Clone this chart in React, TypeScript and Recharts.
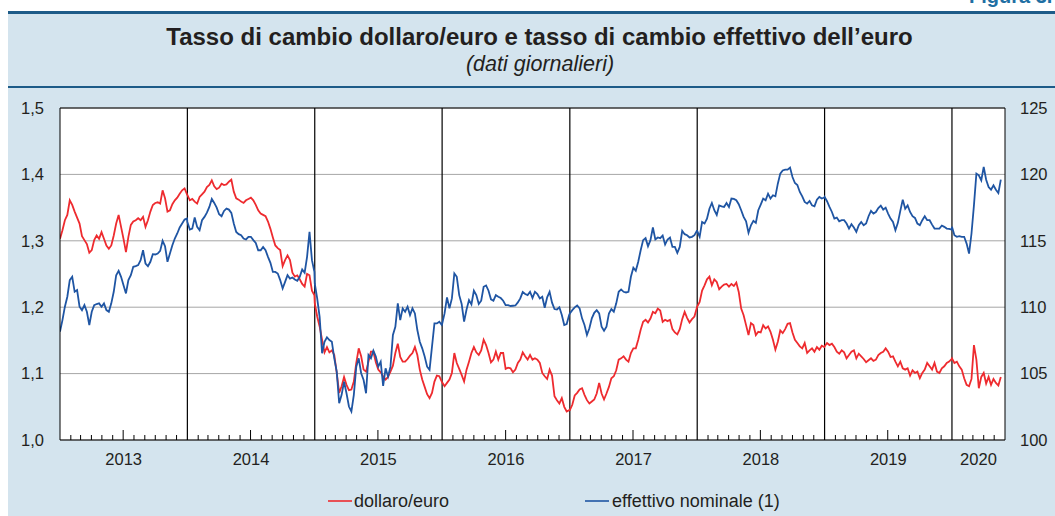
import React from 'react';
import { LineChart, Line, XAxis, YAxis, CartesianGrid, ReferenceLine } from 'recharts';

const years = [2013, 2014, 2015, 2016, 2017, 2018, 2019, 2020];
const yearLabels = ['2013', '2014', '2015', '2016', '2017', '2018', '2019', '2020'];
const leftTicks = [1.0, 1.1, 1.2, 1.3, 1.4, 1.5];
const rightTicks = [100, 105, 110, 115, 120, 125];

// weekly readings: first value on 1 January of each year, then every 7 days
const usd2013 = [1.303, 1.316, 1.331, 1.339, 1.361, 1.354, 1.344, 1.335, 1.326, 1.307, 1.301, 1.295, 1.282, 1.286, 1.301, 1.308, 1.303, 1.313, 1.303, 1.293, 1.288, 1.293, 1.308, 1.326, 1.339, 1.321, 1.303, 1.283, 1.306, 1.324, 1.329, 1.331, 1.334, 1.331, 1.336, 1.321, 1.331, 1.344, 1.354, 1.357, 1.358, 1.356, 1.376, 1.364, 1.344, 1.346, 1.355, 1.361, 1.365, 1.371, 1.376, 1.379, 1.370];
const usd2014 = [1.369, 1.361, 1.363, 1.359, 1.356, 1.366, 1.370, 1.374, 1.381, 1.384, 1.391, 1.382, 1.378, 1.380, 1.386, 1.384, 1.385, 1.389, 1.392, 1.374, 1.364, 1.362, 1.359, 1.357, 1.361, 1.363, 1.365, 1.361, 1.354, 1.346, 1.341, 1.339, 1.337, 1.329, 1.318, 1.305, 1.293, 1.289, 1.286, 1.262, 1.271, 1.278, 1.271, 1.252, 1.246, 1.248, 1.242, 1.235, 1.231, 1.250, 1.248, 1.225, 1.218];
const usd2015 = [1.206, 1.186, 1.171, 1.151, 1.132, 1.140, 1.132, 1.135, 1.128, 1.101, 1.071, 1.081, 1.095, 1.083, 1.075, 1.076, 1.088, 1.116, 1.138, 1.126, 1.106, 1.103, 1.118, 1.133, 1.133, 1.117, 1.106, 1.102, 1.096, 1.091, 1.095, 1.103, 1.112, 1.131, 1.145, 1.125, 1.118, 1.118, 1.122, 1.127, 1.131, 1.140, 1.128, 1.106, 1.091, 1.080, 1.069, 1.063, 1.071, 1.088, 1.097, 1.096, 1.088];
const usd2016 = [1.087, 1.081, 1.086, 1.091, 1.101, 1.131, 1.116, 1.107, 1.098, 1.088, 1.106, 1.118, 1.131, 1.140, 1.132, 1.128, 1.135, 1.151, 1.143, 1.131, 1.117, 1.121, 1.133, 1.121, 1.131, 1.131, 1.107, 1.109, 1.108, 1.102, 1.106, 1.116, 1.121, 1.132, 1.126, 1.121, 1.128, 1.121, 1.123, 1.121, 1.116, 1.101, 1.096, 1.092, 1.106, 1.097, 1.066, 1.060, 1.055, 1.063, 1.050, 1.043, 1.045];
const usd2017 = [1.045, 1.053, 1.067, 1.071, 1.076, 1.078, 1.068, 1.060, 1.055, 1.058, 1.061, 1.070, 1.086, 1.070, 1.061, 1.070, 1.080, 1.093, 1.096, 1.105, 1.121, 1.123, 1.126, 1.121, 1.118, 1.131, 1.138, 1.138, 1.151, 1.166, 1.178, 1.181, 1.177, 1.183, 1.193, 1.191, 1.198, 1.195, 1.178, 1.181, 1.179, 1.181, 1.167, 1.162, 1.159, 1.167, 1.182, 1.193, 1.184, 1.177, 1.182, 1.186, 1.199];
const usd2018 = [1.201, 1.208, 1.225, 1.233, 1.242, 1.246, 1.233, 1.242, 1.238, 1.227, 1.231, 1.234, 1.235, 1.231, 1.235, 1.232, 1.237, 1.223, 1.198, 1.188, 1.173, 1.158, 1.176, 1.173, 1.158, 1.163, 1.162, 1.173, 1.168, 1.171, 1.163, 1.151, 1.136, 1.148, 1.165, 1.161, 1.167, 1.175, 1.176, 1.162, 1.151, 1.146, 1.141, 1.138, 1.146, 1.131, 1.135, 1.138, 1.133, 1.140, 1.136, 1.142, 1.140];
const usd2019 = [1.141, 1.146, 1.143, 1.145, 1.140, 1.133, 1.130, 1.135, 1.132, 1.123, 1.128, 1.133, 1.135, 1.123, 1.130, 1.126, 1.122, 1.117, 1.120, 1.123, 1.119, 1.121, 1.128, 1.131, 1.133, 1.138, 1.133, 1.125, 1.126, 1.118, 1.111, 1.118, 1.108, 1.106, 1.108, 1.097, 1.105, 1.101, 1.103, 1.093, 1.101, 1.106, 1.116, 1.111, 1.106, 1.116, 1.103, 1.101, 1.108, 1.111, 1.116, 1.118, 1.122];
const usd2020 = [1.123, 1.116, 1.118, 1.111, 1.106, 1.093, 1.083, 1.081, 1.092, 1.143, 1.121, 1.078, 1.095, 1.101, 1.085, 1.095, 1.083, 1.092, 1.086, 1.082, 1.095];

const eff2013 = [108.16, 109.03, 110.04, 110.79, 112.04, 112.29, 111.16, 111.29, 110.04, 109.78, 110.16, 109.66, 108.66, 109.66, 110.16, 110.24, 110.29, 110.04, 110.29, 109.78, 109.66, 110.29, 111.16, 112.41, 112.74, 112.29, 111.66, 111.04, 112.04, 112.41, 113.04, 113.09, 113.17, 113.54, 114.29, 113.29, 113.09, 113.42, 113.99, 113.97, 114.04, 114.24, 115.0, 114.59, 113.42, 114.04, 114.67, 115.17, 115.55, 116.0, 116.3, 116.6, 116.67];
const eff2014 = [116.42, 115.85, 115.92, 116.75, 116.05, 115.8, 116.55, 116.8, 117.12, 117.55, 118.15, 117.85, 117.5, 117.0, 116.85, 117.25, 117.42, 117.35, 117.1, 116.3, 115.67, 115.5, 115.42, 115.17, 115.1, 115.3, 115.3, 115.05, 114.84, 114.29, 114.29, 114.54, 114.29, 113.79, 113.34, 112.66, 112.66, 112.54, 112.04, 111.41, 111.91, 112.41, 112.16, 112.24, 112.09, 111.99, 112.29, 112.84, 112.59, 113.79, 115.67, 113.54, 112.66];
const eff2015 = [111.79, 110.66, 109.28, 106.53, 107.4, 107.73, 107.53, 107.4, 106.15, 105.15, 102.77, 103.4, 104.4, 103.52, 102.52, 102.14, 103.4, 105.52, 106.15, 105.03, 104.52, 103.52, 106.4, 106.15, 106.73, 106.28, 105.52, 105.9, 104.07, 105.4, 104.77, 105.52, 107.91, 108.53, 110.29, 109.03, 109.91, 109.66, 110.04, 109.41, 109.91, 109.53, 108.28, 107.4, 106.9, 106.28, 105.52, 105.28, 107.03, 108.78, 108.78, 108.91, 108.66];
const eff2016 = [108.73, 109.53, 110.74, 109.91, 110.66, 112.54, 112.29, 110.91, 110.24, 108.91, 109.83, 110.54, 110.21, 111.24, 110.91, 110.24, 110.49, 111.54, 111.64, 111.24, 110.59, 110.49, 110.91, 110.79, 110.69, 110.49, 110.16, 110.16, 110.09, 110.11, 110.13, 110.36, 110.66, 111.14, 110.99, 110.91, 111.16, 110.69, 111.16, 110.99, 110.66, 110.79, 109.96, 110.74, 111.16, 110.34, 109.86, 109.83, 109.99, 109.41, 108.66, 108.73, 109.41];
const eff2017 = [109.53, 109.78, 109.99, 110.13, 109.91, 109.16, 108.66, 107.91, 108.41, 109.16, 109.58, 109.78, 109.53, 108.53, 108.23, 108.53, 109.53, 109.86, 109.66, 110.29, 111.16, 111.34, 111.16, 111.11, 111.16, 112.29, 112.97, 112.74, 113.42, 114.29, 115.05, 115.2, 114.59, 115.05, 116.0, 115.1, 115.25, 115.2, 115.4, 114.72, 115.1, 115.25, 114.54, 114.54, 114.09, 114.54, 115.75, 115.5, 115.42, 115.25, 115.3, 115.42, 115.75];
const eff2018 = [115.75, 115.3, 116.42, 116.3, 116.67, 117.42, 117.85, 117.3, 116.95, 117.67, 117.6, 117.55, 117.85, 117.55, 118.18, 118.15, 118.05, 117.75, 117.3, 116.8, 116.47, 115.6, 116.17, 116.5, 116.35, 117.3, 117.73, 118.18, 118.05, 118.55, 118.18, 118.43, 118.35, 119.3, 120.06, 120.3, 120.36, 120.36, 120.51, 119.8, 119.35, 119.2, 118.68, 118.35, 117.93, 117.8, 118.0, 117.67, 117.6, 118.1, 118.3, 118.18, 118.25];
const eff2019 = [118.3, 117.98, 117.55, 117.17, 116.67, 116.75, 116.47, 116.55, 116.55, 116.3, 115.92, 116.25, 116.0, 115.67, 116.17, 116.42, 116.17, 116.3, 116.85, 117.25, 117.05, 117.17, 117.47, 117.65, 117.35, 117.5, 117.05, 116.67, 116.42, 115.8, 116.35, 117.25, 118.1, 117.42, 117.67, 117.17, 116.85, 116.72, 116.3, 116.17, 116.55, 116.85, 116.55, 116.55, 116.22, 115.92, 115.92, 115.92, 116.15, 116.05, 115.92, 115.9, 115.85];
const eff2020 = [116.05, 115.42, 115.3, 115.35, 115.3, 115.3, 114.79, 114.04, 115.55, 117.67, 120.06, 119.93, 119.55, 120.56, 119.6, 119.05, 118.85, 119.18, 118.85, 118.6, 119.6];

const usdByYear = [usd2013, usd2014, usd2015, usd2016, usd2017, usd2018, usd2019, usd2020];
const effByYear = [eff2013, eff2014, eff2015, eff2016, eff2017, eff2018, eff2019, eff2020];

const START = Date.UTC(2013, 0, 1);
const END = Date.UTC(2020, 5, 1);

const toSeries = (byYear: number[][]) =>
  byYear.flatMap((vals, k) => vals.map((v, i) => ({ t: Date.UTC(years[k], 0, 1 + 7 * i), v })));

const usdData = toSeries(usdByYear);
const effData = toSeries(effByYear);

const yearStarts = years.slice(1).map((y) => Date.UTC(y, 0, 1));

const monthTicks = years
  .flatMap((y) => Array.from({ length: 12 }, (_, m) => Date.UTC(y, m, 1)))
  .filter((t) => t > START && t < END && new Date(t).getUTCMonth() !== 0);

const labelMap = new Map<number, string>();
years.forEach((y, k) => {
  const a = Math.max(Date.UTC(y, 0, 1), START);
  const b = Math.min(Date.UTC(y + 1, 0, 1), END);
  labelMap.set(Math.round((a + b) / 2), yearLabels[k]);
});
const xTicks = [...monthTicks, ...labelMap.keys()].sort((a, b) => a - b);

const FONT = '"Liberation Sans", Arial, Helvetica, sans-serif';
const TEXT = '#231f20';
const RED = '#ee2b2f';
const BLUE = '#1f55a3';

const XTick = (props: any) => {
  const { x, y, payload } = props;
  const label = labelMap.get(payload.value);
  if (label) {
    return (
      <text x={x} y={y + 25} textAnchor="middle" fontSize={16.5} fill={TEXT}>
        {label}
      </text>
    );
  }
  const mid = new Date(payload.value).getUTCMonth() === 6;
  return <line x1={x} x2={x} y1={y} y2={y - (mid ? 10 : 5)} stroke="#000" strokeWidth={1} />;
};

export default function App() {
  return (
    <div style={{ position: 'absolute', left: 0, top: 0, width: 1055, height: 516, overflow: 'hidden', background: '#fff', fontFamily: FONT }}>
      <svg width={1055} height={516} style={{ position: 'absolute', left: 0, top: 0 }}>
        <rect x={8} y={12} width={1047} height={504} fill="#d4e4ee" />
        <rect x={8} y={11} width={1047} height={3} fill="#1d5b88" />
        <rect x={8} y={86} width={1047} height={2} fill="#1d5b88" />
        <text x={969} y={3} fontSize={20} fontWeight="bold" fill="#1f6fa3">Figura 3.</text>
        <text x={539.5} y={45} textAnchor="middle" fontSize={24} fontWeight="bold" fill={TEXT}>
          Tasso di cambio dollaro/euro e tasso di cambio effettivo dell’euro
        </text>
        <text x={540} y={71} textAnchor="middle" fontSize={21.5} fontStyle="italic" fill={TEXT}>
          (dati giornalieri)
        </text>
        <line x1={328} x2={352} y1={501} y2={501} stroke={RED} strokeWidth={1.6} />
        <text x={354} y={507} fontSize={18} fill={TEXT}>dollaro/euro</text>
        <line x1={585} x2={609} y1={501} y2={501} stroke={BLUE} strokeWidth={1.6} />
        <text x={612} y={507} fontSize={18} fill={TEXT}>effettivo nominale (1)</text>
      </svg>
      <div style={{ position: 'absolute', left: 0, top: 0 }}>
        <LineChart width={1055} height={516} margin={{ top: 108, right: 0, bottom: 46, left: 0 }}>
          <CartesianGrid vertical={false} stroke="#a6a6a6" fill="#ffffff" fillOpacity={1} />
          <XAxis
            dataKey="t"
            type="number"
            domain={[START, END]}
            allowDataOverflow
            ticks={xTicks}
            interval={0}
            tick={XTick}
            tickLine={false}
            tickSize={0}
            tickMargin={0}
            height={30}
            axisLine={{ stroke: '#000', strokeWidth: 1 }}
          />
          <YAxis
            yAxisId={0}
            domain={[1, 1.5]}
            ticks={leftTicks}
            interval={0}
            width={60}
            tickLine={false}
            tickSize={0}
            tickMargin={16}
            tickFormatter={(v: number) => v.toFixed(1).replace('.', ',')}
            tick={{ fill: TEXT, fontSize: 16.5 }}
            axisLine={{ stroke: '#000', strokeWidth: 1 }}
          />
          <YAxis
            yAxisId="right"
            orientation="right"
            domain={[100, 125]}
            ticks={rightTicks}
            interval={0}
            width={50}
            tickLine={false}
            tickSize={0}
            tickMargin={15}
            tick={{ fill: TEXT, fontSize: 16.5 }}
            axisLine={{ stroke: '#000', strokeWidth: 1 }}
          />
          {yearStarts.map((t) => (
            <ReferenceLine key={t} x={t} stroke="#000" strokeWidth={1.2} />
          ))}
          <ReferenceLine y={1.5} stroke="#000" strokeWidth={1} />
          <Line
            data={usdData}
            dataKey="v"
            yAxisId={0}
            type="linear"
            stroke={RED}
            strokeWidth={1.8}
            dot={false}
            isAnimationActive={false}
          />
          <Line
            data={effData}
            dataKey="v"
            yAxisId="right"
            type="linear"
            stroke={BLUE}
            strokeWidth={1.8}
            dot={false}
            isAnimationActive={false}
          />
        </LineChart>
      </div>
    </div>
  );
}
